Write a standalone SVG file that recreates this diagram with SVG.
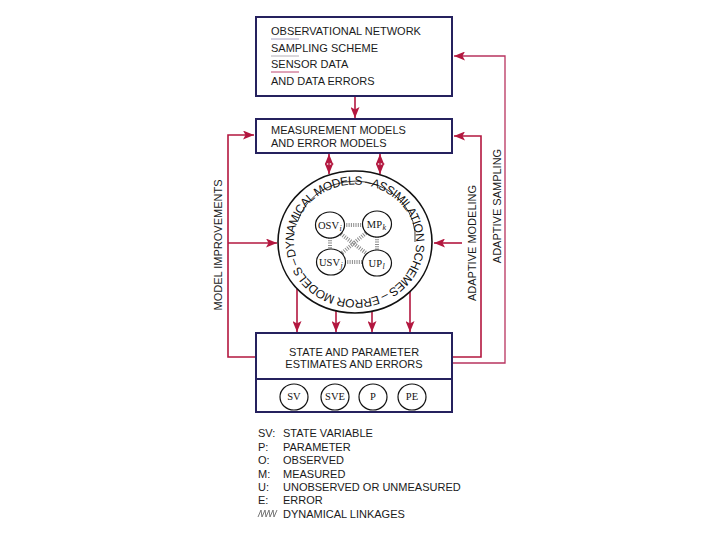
<svg xmlns="http://www.w3.org/2000/svg" width="720" height="540" viewBox="0 0 720 540">
<style>
.box{fill:#fff;stroke:#25215e;stroke-width:2}
.t{font-family:"Liberation Sans",Arial,sans-serif;font-size:11px;fill:#1a1a1a}
.r{font-family:"Liberation Sans",Arial,sans-serif;font-size:12px;letter-spacing:-0.55px;fill:#111}
.s{font-family:"Liberation Serif","Times New Roman",serif;font-size:10.5px;fill:#111}
.sub{font-family:"Liberation Serif","Times New Roman",serif;font-size:8px;font-style:italic;fill:#111}
.c{fill:none;stroke:#b3173f;stroke-width:1.6}
.sc{fill:#fff;stroke:#111;stroke-width:1.2}
.lk{stroke:#8a8a8a;stroke-width:4;stroke-dasharray:1 1.3;fill:none}
</style>
<defs>
<marker id="ah" markerUnits="userSpaceOnUse" markerWidth="11" markerHeight="9" refX="11" refY="4.5" orient="auto-start-reverse">
<path d="M0,0 L11,4.5 L0,9 L2.5,4.5 z" fill="#b3173f"/>
</marker>
<path id="ring" d="M296.08,256.75 A61,57 0 1 1 413.92,227.25 A61,57 0 1 1 296.08,256.75"/>
</defs>
<rect width="720" height="540" fill="#fff"/>

<g id="connectors">
<line class="c" x1="355" y1="96" x2="355" y2="118" marker-end="url(#ah)"/>
<path class="c" d="M255,357 H228 V135 H254" marker-end="url(#ah)"/>
<line class="c" x1="228" y1="243" x2="277" y2="243" marker-end="url(#ah)"/>
<path class="c" d="M453,357 H481 V136 H454" marker-end="url(#ah)"/>
<path class="c" d="M453,363 H505 V56 H454" style="stroke:#b8335f;stroke-width:1.3" marker-end="url(#ah)"/>
<line class="c" x1="462" y1="243" x2="434" y2="243" marker-end="url(#ah)"/>
<line class="c" x1="329" y1="154" x2="329" y2="174" marker-start="url(#ah)" marker-end="url(#ah)"/>
<line class="c" x1="380" y1="154" x2="380" y2="174" marker-start="url(#ah)" marker-end="url(#ah)"/>
<line class="c" x1="297" y1="289" x2="297" y2="332" marker-end="url(#ah)"/>
<line class="c" x1="336" y1="311" x2="336" y2="332" marker-end="url(#ah)"/>
<line class="c" x1="372" y1="311" x2="372" y2="332" marker-end="url(#ah)"/>
<line class="c" x1="410" y1="292" x2="410" y2="332" marker-end="url(#ah)"/>
<text class="t" transform="translate(222,245) rotate(-90)" text-anchor="middle">MODEL IMPROVEMENTS</text>
<text class="t" transform="translate(476,243) rotate(-90)" text-anchor="middle">ADAPTIVE MODELING</text>
<text class="t" transform="translate(501,206) rotate(-90)" text-anchor="middle">ADAPTIVE SAMPLING</text>
</g>

<g id="observational">
<rect class="box" x="256" y="17" width="196" height="79"/>
<text class="t" x="271" y="35">OBSERVATIONAL NETWORK</text>
<line x1="271" y1="39" x2="299" y2="39" stroke="#a8a4c4" stroke-width="1"/>
<text class="t" x="271" y="52">SAMPLING SCHEME</text>
<line x1="271" y1="56" x2="299" y2="56" stroke="#b4b0b8" stroke-width="1"/>
<text class="t" x="271" y="68">SENSOR DATA</text>
<line x1="271" y1="72" x2="299" y2="72" stroke="#c04870" stroke-width="1"/>
<text class="t" x="271" y="85">AND DATA ERRORS</text>
</g>

<g id="measurement">
<rect class="box" x="256" y="119" width="196" height="34"/>
<text class="t" x="271" y="134">MEASUREMENT MODELS</text>
<text class="t" x="271" y="147">AND ERROR MODELS</text>
</g>

<g id="models-ring">
<ellipse cx="355" cy="242" rx="77" ry="71" fill="#fff" stroke="#111" stroke-width="1.6"/>
<path d="M297.7,221.2 A60,56 0 0 1 415,242" fill="none" stroke="#111" stroke-width="0.8"/>
<text class="r"><textPath href="#ring">DYNAMICAL MODELS –ASSIMILATION SCHEMES – ERROR MODELS –</textPath></text>
</g>

<g id="linkages">
<line class="lk" x1="344" y1="225" x2="363" y2="225"/>
<line class="lk" x1="345" y1="262" x2="363" y2="262"/>
<line class="lk" x1="330" y1="238" x2="330" y2="249"/>
<line class="lk" x1="377" y1="237" x2="377" y2="250"/>
<line class="lk" x1="341" y1="234" x2="366" y2="253"/>
<line class="lk" x1="366" y1="233" x2="342" y2="253"/>
</g>

<g id="osv"><ellipse class="sc" cx="330" cy="225" rx="14.5" ry="13"/><text class="s" x="339" y="229" text-anchor="end">OSV</text><text class="sub" x="339.5" y="231">i</text></g>
<g id="mp"><ellipse class="sc" cx="377" cy="224" rx="14.5" ry="13"/><text class="s" x="382" y="228" text-anchor="end">MP</text><text class="sub" x="382.5" y="230">k</text></g>
<g id="usv"><ellipse class="sc" cx="331" cy="262" rx="14.5" ry="13"/><text class="s" x="340" y="266" text-anchor="end">USV</text><text class="sub" x="340.5" y="268">j</text></g>
<g id="up"><ellipse class="sc" cx="377" cy="263" rx="14.5" ry="13"/><text class="s" x="382" y="267" text-anchor="end">UP</text><text class="sub" x="382.5" y="269">l</text></g>

<g id="estimates">
<rect class="box" x="256" y="333" width="196" height="79"/>
<line x1="256" y1="379" x2="452" y2="379" stroke="#25215e" stroke-width="2"/>
<text class="t" x="354" y="356" text-anchor="middle">STATE AND PARAMETER</text>
<text class="t" x="354" y="368" text-anchor="middle">ESTIMATES AND ERRORS</text>
</g>
<g id="sv"><ellipse class="sc" cx="294" cy="397" rx="14" ry="13"/><text class="s" x="294" y="400" text-anchor="middle" font-size="9">SV</text></g>
<g id="sve"><ellipse class="sc" cx="335" cy="397" rx="14" ry="13"/><text class="s" x="335" y="400" text-anchor="middle" font-size="9">SVE</text></g>
<g id="p"><ellipse class="sc" cx="373" cy="397" rx="14" ry="13"/><text class="s" x="373" y="400" text-anchor="middle" font-size="9">P</text></g>
<g id="pe"><ellipse class="sc" cx="412" cy="397" rx="14" ry="13"/><text class="s" x="412" y="400" text-anchor="middle" font-size="9">PE</text></g>

<g id="legend">
<text class="t" x="258" y="437">SV:</text><text class="t" x="283" y="437">STATE VARIABLE</text>
<text class="t" x="258" y="451">P:</text><text class="t" x="283" y="451">PARAMETER</text>
<text class="t" x="258" y="464">O:</text><text class="t" x="283" y="464">OBSERVED</text>
<text class="t" x="258" y="478">M:</text><text class="t" x="283" y="478">MEASURED</text>
<text class="t" x="258" y="491">U:</text><text class="t" x="283" y="491">UNOBSERVED OR UNMEASURED</text>
<text class="t" x="258" y="504">E:</text><text class="t" x="283" y="504">ERROR</text>
<path d="M258,517 L261,510 L262,517 L265,510 L266,517 L269,510 L270,517 L273,510 L274,517 L277,510" fill="none" stroke="#777" stroke-width="1"/>
<text class="t" x="283" y="518">DYNAMICAL LINKAGES</text>
</g>
</svg>
